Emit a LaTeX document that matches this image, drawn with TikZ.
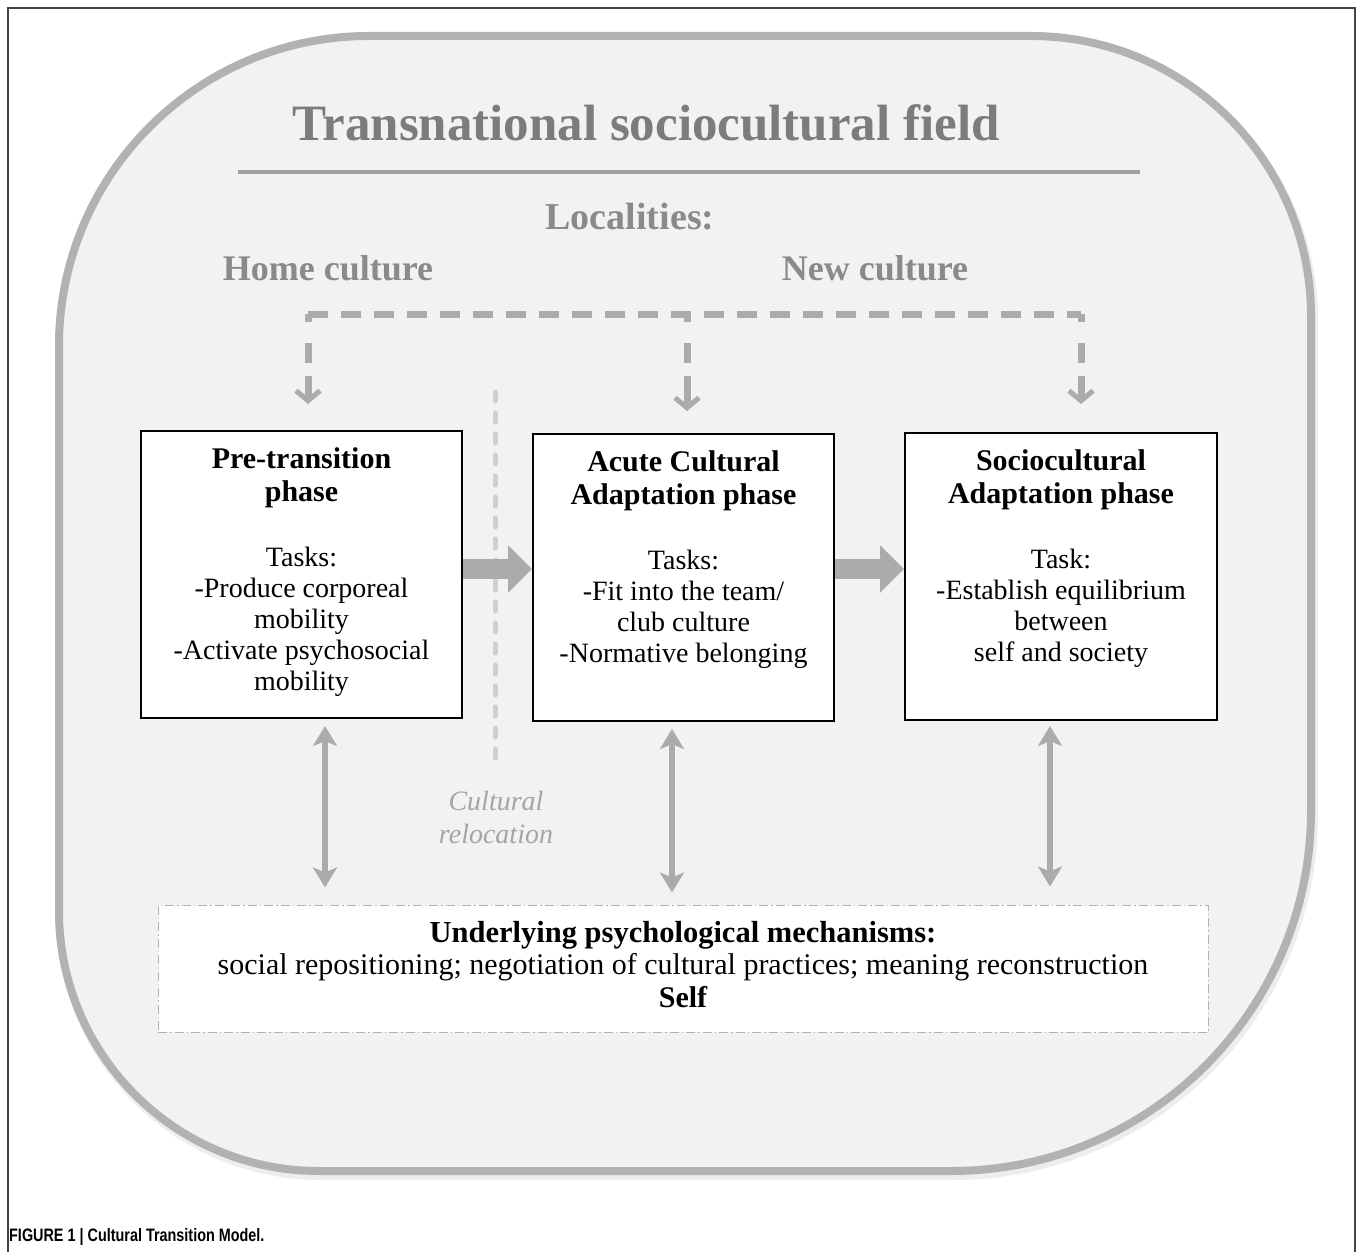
\documentclass[tikz,border=0pt]{standalone}
\usepackage{fontspec}
\setmainfont{Liberation Serif}
\newfontfamily\capfont[FakeStretch=0.8]{Liberation Sans}
\usetikzlibrary{arrows.meta,calc}
\definecolor{fieldfill}{HTML}{F2F2F2}
\definecolor{fieldline}{HTML}{B2B2B2}
\definecolor{titlegray}{HTML}{7C7C7C}
\definecolor{locgray}{HTML}{8A8A8A}
\definecolor{arrowgray}{HTML}{ABABAB}
\definecolor{relocgray}{HTML}{CFCFCF}
\definecolor{reloctext}{HTML}{A5A5A5}
\definecolor{framegray}{HTML}{444444}
\newcommand{\phasetext}[3]{\parbox[t][287pt][t]{#1}{\centering\vspace*{17pt}{\bfseries\fontsize{30}{33}\selectfont #2\par}\vspace{34pt}{\fontsize{28}{31}\selectfont #3\par}}}
\begin{document}
\begin{tikzpicture}[x=1pt,y=-1pt,
  phasebox/.style={draw=black, line width=2, fill=white, inner sep=0pt},
  locdash/.style={draw=arrowgray, line width=7, dash pattern=on 20pt off 13pt},
  locarrow/.style={draw=arrowgray, line width=7, dash pattern=on 8pt off 21pt on 20pt off 13pt on 60pt, -{Straight Barb[length=10pt,width=24pt,line width=5pt]}},
  fatarrow/.style={draw=arrowgray, line width=20, -{Triangle[length=24pt,width=46pt]}},
  dblarrow/.style={draw=arrowgray, line width=6, {Stealth[length=20pt,width=24pt,inset=5pt]}-{Stealth[length=20pt,width=24pt,inset=5pt]}},
  relocdash/.style={draw=relocgray, line width=5, line cap=round, dash pattern=on 9pt off 12pt},
  loclabel/.style={text=locgray, font=\bfseries\fontsize{36}{40}\selectfont, inner sep=0pt}
]
\useasboundingbox (0,0) rectangle (1358,1252);
\fill[white] (0,0) rectangle (1358,1252);
% figure frame
\draw[framegray, line width=1.5] (8,1252) -- (8,8) -- (1355,8) -- (1355,1252);
% field
\def\fieldpath{(59,346) arc[start angle=180,end angle=270,radius=310] -- (1031,36) arc[start angle=270,end angle=360,radius=280] -- (1311,811) arc[start angle=0,end angle=90,radius=360] -- (319,1171) arc[start angle=90,end angle=180,radius=260] -- cycle}
\draw[black, opacity=0.07, line width=10, shift={(2,4)}] \fieldpath;
\draw[fill=fieldfill, draw=fieldline, line width=8] \fieldpath;
% title
\node[text=titlegray, font=\bfseries\fontsize{51}{56}\selectfont, inner sep=0pt] (title) at (646,123) {Transnational sociocultural field};
\coordinate (rl) at (238,172);
\coordinate (rr) at (1140,172);
\draw[draw=fieldline!90!black, line width=4] (rl) -- (rr);
\node[loclabel, font=\bfseries\fontsize{38}{42}\selectfont] (loc) at (630,217) {Localities:};
\node[loclabel] (home) at (328,268) {Home culture};
\node[loclabel] (new) at (875,268) {New culture};
% phase boxes
\node[phasebox] (b1) at (301.5,574.5) {\phasetext{321pt}{Pre-transition\\phase}{Tasks:\\-Produce corporeal\\mobility\\-Activate psychosocial\\mobility}};
\node[phasebox] (b2) at (683.5,577.5) {\phasetext{301pt}{Acute Cultural\\Adaptation phase}{Tasks:\\-Fit into the team/\\club culture\\-Normative belonging}};
\node[phasebox] (b3) at (1061,576.5) {\phasetext{312pt}{Sociocultural\\Adaptation phase}{Task:\\-Establish equilibrium\\between\\self and society}};
% bottom box
\node[draw=black!30, line width=1, dash pattern=on 9pt off 3pt on 1.5pt off 3pt, fill=white, inner sep=0pt] (mech) at (683,968.5) {\parbox[t][127pt][t]{1050pt}{\centering\vspace*{16pt}\fontsize{30}{32.5}\selectfont{\bfseries\fontsize{30.5}{32.5}\selectfont Underlying psychological mechanisms:}\\social repositioning; negotiation of cultural practices; meaning reconstruction\\{\bfseries Self}\par}};
% locality dashed connectors
\coordinate (cl) at (308,314);
\coordinate (cm) at (687,314);
\coordinate (cr) at (1081,314);
\draw[locdash] (cl) -- (cr);
\draw[locarrow, shorten >=26pt] (cl) -- (cl |- b1.north);
\draw[locarrow, shorten >=22pt] (cm) -- (cm |- b2.north);
\draw[locarrow, shorten >=28pt] (cr) -- (cr |- b3.north);
% relocation
\node[text=reloctext, font=\itshape\fontsize{28}{33}\selectfont, align=center, inner sep=0pt] (reloc) at (496,817) {Cultural\\relocation};
\coordinate (rt) at (495,392);
\draw[relocdash, shorten >=22pt] (rt) -- (rt |- reloc.north);
% fat arrows
\coordinate (ay) at (0,569);
\draw[fatarrow] (b1.east |- ay) -- (b2.west |- ay);
\draw[fatarrow] (b2.east |- ay) -- (b3.west |- ay);
% double arrows
\coordinate (d1) at (325,800);
\coordinate (d2) at (672,800);
\coordinate (d3) at (1050,800);
\draw[dblarrow, shorten <=7pt, shorten >=17pt] (b1.south -| d1) -- (mech.north -| d1);
\draw[dblarrow, shorten <=7pt, shorten >=12pt] (b2.south -| d2) -- (mech.north -| d2);
\draw[dblarrow, shorten <=5pt, shorten >=18pt] (b3.south -| d3) -- (mech.north -| d3);
% caption
\node[anchor=base west, inner sep=0pt, font=\capfont\bfseries\fontsize{18}{20}\selectfont] (cap) at (9,1241) {FIGURE 1 | Cultural Transition Model.};
\end{tikzpicture}
\end{document}
